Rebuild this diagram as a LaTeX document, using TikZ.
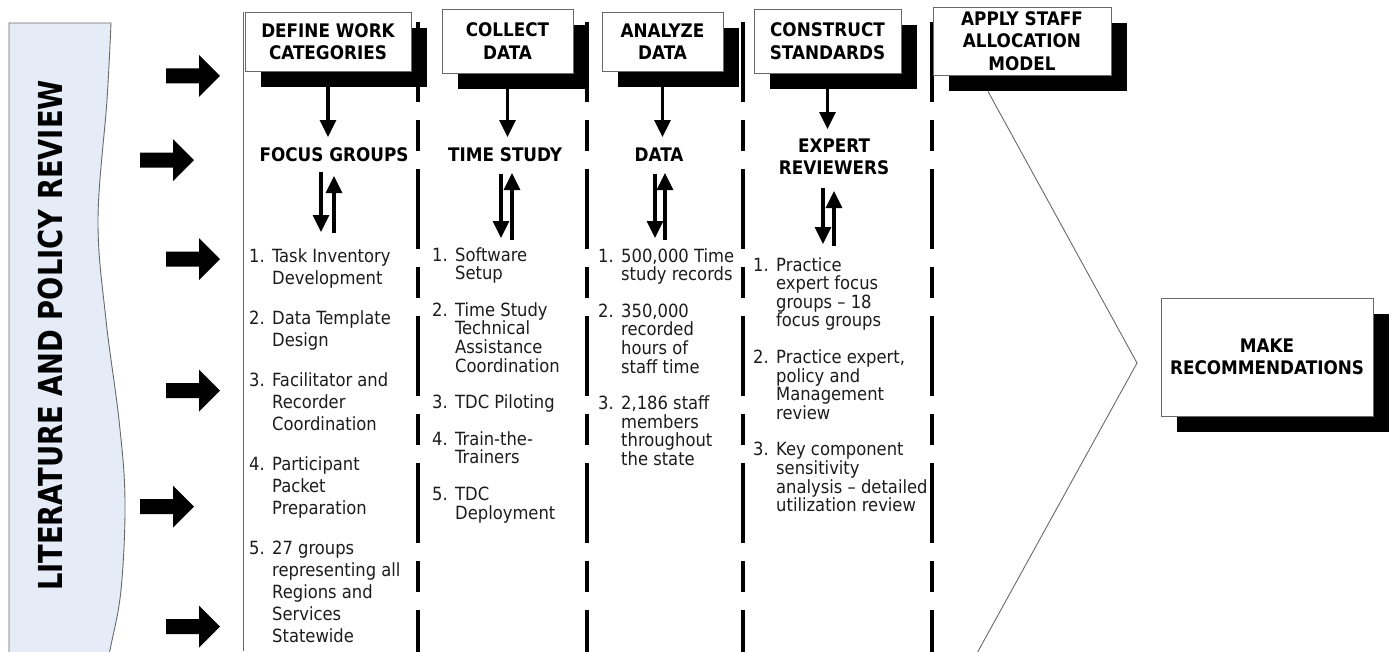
\documentclass[tikz,border=0pt]{standalone}
\usepackage{fontspec}
\usepackage{graphicx}
\setmainfont{DejaVu Sans Condensed}
\usetikzlibrary{arrows.meta,shadows}
\definecolor{bannerfill}{RGB}{229,236,248}
\definecolor{txt}{RGB}{28,28,28}
\definecolor{edge}{RGB}{105,105,105}
\newcommand\nm[1]{\makebox[23pt][l]{#1}}
\newcommand\cl{\hspace*{23pt}}
\tikzset{
  hdr/.style={draw=edge, line width=0.9pt, fill=white, align=center, inner sep=0pt,
    font={\fontsize{18.7}{22.5}\selectfont\bfseries}, text=black,
    drop shadow={shadow xshift=16pt, shadow yshift=-16pt, opacity=1, fill=black, draw=none}},
  lbl/.style={font={\fontsize{18.7}{22.5}\selectfont\bfseries}, align=center, inner sep=0pt, text=black},
  listtxt/.style={anchor=base west, inner sep=0pt, text=txt},
  arr/.style={line width=3.2pt, -{Triangle[width=16pt,length=17pt]}},
  colline/.style={line width=3.5pt, dash pattern=on 80pt off 18pt on 31pt off 18pt},
  thinline/.style={draw=edge, line width=0.9pt},
  bigarrow/.pic={\fill[black] (0,-7.5) -- (33,-7.5) -- (33,-21) -- (54,0) -- (33,21) -- (33,7.5) -- (0,7.5) -- cycle;}
}
\begin{document}
\begin{tikzpicture}[x=1pt,y=-1pt]
\useasboundingbox (0,0) rectangle (1393,651);
% banner
\draw[draw=edge, fill=bannerfill, line width=0.9pt] (9,690) -- (9,23) -- plot[smooth, tension=0.6] coordinates {(111,23) (107,100) (98,220) (106,320) (119,420) (125,500) (121,590) (110,650) (102,690)} -- cycle;
\node[rotate=90, inner sep=0pt, font={\fontsize{33}{33}\selectfont\bfseries}, text=black] (lit) at (50,335.5) {\scalebox{0.92}[1]{LITERATURE AND POLICY REVIEW}};
% big arrows
\pic at (166,75.8) {bigarrow};
\pic at (140,160) {bigarrow};
\pic at (166,259) {bigarrow};
\pic at (166,390.5) {bigarrow};
\pic at (140,506.5) {bigarrow};
\pic at (166,626.5) {bigarrow};
% column separators
\draw[thinline] (243,12) -- (243,651);
\draw[colline] (418,22) -- (418,660);
\draw[colline] (587,22) -- (587,660);
\draw[colline] (743,22) -- (743,660);
\draw[colline] (932,22) -- (932,660);
% header boxes
\node[hdr, minimum width=166pt, minimum height=59pt] (b1) at (328,41.5) {DEFINE WORK\\CATEGORIES};
\node[hdr, minimum width=131pt, minimum height=64pt] (b2) at (507.5,41) {COLLECT\\DATA};
\node[hdr, minimum width=121pt, minimum height=59pt] (b3) at (662.5,41.5) {ANALYZE\\DATA};
\node[hdr, minimum width=147pt, minimum height=64pt] (b4) at (827.5,41) {CONSTRUCT\\STANDARDS};
\node[hdr, minimum width=178pt, minimum height=68pt] (b5) at (1022,41) {APPLY STAFF\\ALLOCATION\\MODEL};
\node[hdr, minimum width=212pt, minimum height=118pt] (b6) at (1267,357) {MAKE\\RECOMMENDATIONS};
% chevron
\coordinate (apex) at (1137,363);
\coordinate (chevb) at (976,655);
\draw[thinline] ([shift={(-34pt,-16pt)}]b5.south) -- (apex) -- (chevb);
% labels
\node[lbl, anchor=base] (fg) at (334,161) {FOCUS GROUPS};
\node[lbl, anchor=base] (ts) at (505,161) {TIME STUDY};
\node[lbl, anchor=base] (dt) at (659,161) {DATA};
\node[lbl] (er) at (834,157) {EXPERT\\REVIEWERS};
% arrows from boxes to labels
\coordinate (t1) at (329,137);
\coordinate (t2) at (508,137);
\coordinate (t3) at (661,137);
\coordinate (t4) at (828,129);
\draw[arr] ([yshift=-16pt]b1.south) -- (b1.south |- t1);
\draw[arr] ([yshift=-16pt]b2.south) -- (b2.south |- t2);
\draw[arr] ([yshift=-16pt]b3.south) -- (b3.south |- t3);
\draw[arr] ([yshift=-16pt]b4.south) -- (b4.south |- t4);
% two-way arrow pairs
\coordinate (d1s) at (321,172); \coordinate (d1e) at (321,232);
\coordinate (u1s) at (334,233); \coordinate (u1e) at (334,176);
\coordinate (d2s) at (501,174); \coordinate (d2e) at (501,238);
\coordinate (u2s) at (512,240); \coordinate (u2e) at (512,173);
\coordinate (d3s) at (655,174); \coordinate (d3e) at (655,238);
\coordinate (u3s) at (665,240); \coordinate (u3e) at (665,173);
\coordinate (d4s) at (823,188); \coordinate (d4e) at (823,244);
\coordinate (u4s) at (834,246); \coordinate (u4e) at (834,191);
\draw[arr] (d1s) -- (d1e); \draw[arr] (u1s) -- (u1e);
\draw[arr] (d2s) -- (d2e); \draw[arr] (u2s) -- (u2e);
\draw[arr] (d3s) -- (d3e); \draw[arr] (u3s) -- (u3e);
\draw[arr] (d4s) -- (d4e); \draw[arr] (u4s) -- (u4e);
% lists
\node[listtxt] (l1) at (249,262) {\fontsize{18.2}{22}\selectfont\begin{minipage}[t]{170pt}\raggedright
\nm{1.}Task Inventory\\\cl Development\\[18pt]
\nm{2.}Data Template\\\cl Design\\[18pt]
\nm{3.}Facilitator and\\\cl Recorder\\\cl Coordination\\[18pt]
\nm{4.}Participant\\\cl Packet\\\cl Preparation\\[18pt]
\nm{5.}27 groups\\\cl representing all\\\cl Regions and\\\cl Services\\\cl Statewide
\end{minipage}};
\node[listtxt] (l2) at (432,261) {\fontsize{18.2}{18.6}\selectfont\begin{minipage}[t]{150pt}\raggedright
\nm{1.}Software\\\cl Setup\\[18pt]
\nm{2.}Time Study\\\cl Technical\\\cl Assistance\\\cl Coordination\\[18pt]
\nm{3.}TDC Piloting\\[18pt]
\nm{4.}Train-the-\\\cl Trainers\\[18pt]
\nm{5.}TDC\\\cl Deployment
\end{minipage}};
\node[listtxt] (l3) at (598,262) {\fontsize{18.2}{18.6}\selectfont\begin{minipage}[t]{150pt}\raggedright
\nm{1.}500,000 Time\\\cl study records\\[18pt]
\nm{2.}350,000\\\cl recorded\\\cl hours of\\\cl staff time\\[18pt]
\nm{3.}2,186 staff\\\cl members\\\cl throughout\\\cl the state
\end{minipage}};
\node[listtxt] (l4) at (753,271) {\fontsize{18.2}{18.6}\selectfont\begin{minipage}[t]{180pt}\raggedright
\nm{1.}Practice\\\cl expert focus\\\cl groups – 18\\\cl focus groups\\[18pt]
\nm{2.}Practice expert,\\\cl policy and\\\cl Management\\\cl review\\[18pt]
\nm{3.}Key component\\\cl sensitivity\\\cl analysis – detailed\\\cl utilization review
\end{minipage}};
\end{tikzpicture}
\end{document}
